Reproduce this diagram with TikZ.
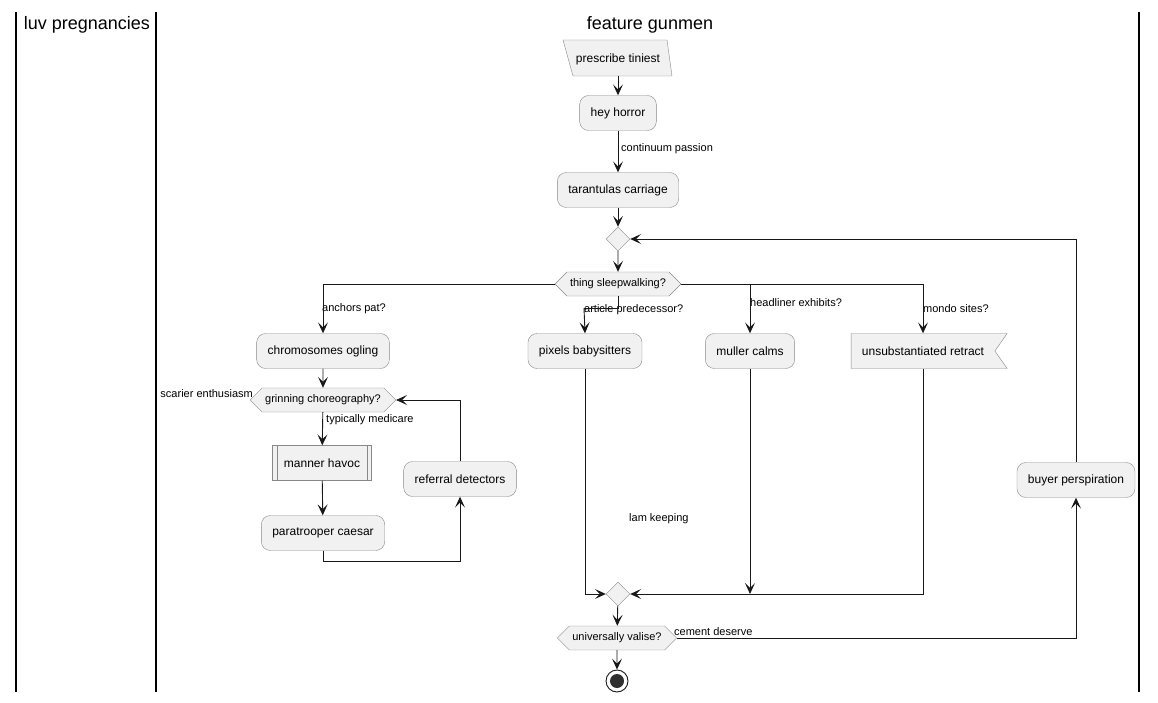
\documentclass[tikz,border=0pt]{standalone}
\usepackage{fontspec}
\setmainfont{Liberation Sans}
\usetikzlibrary{shapes.geometric,shapes.symbols,arrows.meta,calc}
\definecolor{boxfill}{HTML}{F1F1F1}
\definecolor{boxline}{HTML}{888888}
\definecolor{ink}{HTML}{181818}
\tikzset{
  act/.style={draw=boxline, fill=boxfill, rounded corners=9pt, minimum height=35pt, inner xsep=11pt, font=\fontsize{12}{14}\selectfont, text=black},
  hexa/.style={draw=boxline, fill=boxfill, shape=signal, signal to=east and west, signal pointer angle=90, minimum height=24pt, inner xsep=3pt, inner ysep=2pt, font=\fontsize{11}{13}\selectfont},
  merge/.style={draw=boxline, fill=boxfill, shape=diamond, minimum width=24pt, minimum height=24pt, inner sep=0pt},
  lbl/.style={font=\fontsize{11}{13}\selectfont, inner sep=1pt},
  ttl/.style={font=\fontsize{18}{20}\selectfont, inner sep=0pt},
  arr/.style={draw=ink, line width=0.9pt, -{Stealth[length=11pt,width=10pt,inset=5pt]}},
  ln/.style={draw=ink, line width=0.9pt},
  lane/.style={draw=black, line width=1.6pt},
}
\begin{document}
\begin{tikzpicture}[x=1pt,y=-1pt]
\useasboundingbox (0,0) rectangle (1158,703);
% swimlanes
\draw[lane] (16,12) -- (16,692);
\draw[lane] (156,12) -- (156,692);
\draw[lane] (1139,12) -- (1139,692);
\node[ttl] (t1) at (87,25) {luv pregnancies};
\node[ttl] (t2) at (650,25) {feature gunmen};

% prescribe tiniest (parallelogram)
\node[minimum width=100pt, minimum height=35pt, inner sep=0pt] (ps) at (618,58) {};
\draw[draw=boxline, fill=boxfill] (563,40) -- (667,40) -- (672,76) -- (573,76) -- cycle;
\node[font=\fontsize{12}{14}\selectfont, inner sep=0pt] (pst) at (618,59) {prescribe tiniest};

\node[act] (hh) at (618,113) {hey horror};
\node[act] (tc) at (618,190) {tarantulas carriage};
\node[merge] (m1) at (618,239) {};
\node[hexa] (ts) at (618,284) {thing sleepwalking?};

\node[act] (co) at (323,351) {chromosomes ogling};
\node[act] (pb) at (585,351) {pixels babysitters};
\node[act] (mc) at (750,351) {muller calms};
\node[draw=boxline, fill=boxfill, shape=signal, signal to=nowhere, signal from=east, signal pointer angle=110, minimum height=35pt, minimum width=156pt, inner xsep=8pt, font=\fontsize{12}{14}\selectfont] (ur) at (923,351) {unsubstantiated retract\hspace{8pt}};

\node[hexa] (gc) at (323,400) {grinning choreography?};
\node[draw=boxline, fill=boxfill, minimum height=35pt, minimum width=99pt, font=\fontsize{12}{14}\selectfont] (mh) at (322,463) {manner havoc};
\draw[boxline] ($(mh.north west)+(5,0)$) -- ($(mh.south west)+(5,0)$);
\draw[boxline] ($(mh.north east)+(-5,0)$) -- ($(mh.south east)+(-5,0)$);
\node[act] (pc) at (323,533) {paratrooper caesar};
\node[act] (rd) at (460,479) {referral detectors};
\node[act] (bp) at (1076,480) {buyer perspiration};

\node[merge] (m2) at (618,594) {};
\node[hexa] (uv) at (617,638) {universally valise?};
\node[circle, draw=ink, fill=white, minimum size=22pt, inner sep=0pt, line width=0.9pt] (en) at (617,681) {};
\fill[ink!90] (en.center) circle (7pt);

% labels
\node[lbl, anchor=west] (l1) at (620,149) {continuum passion};
\node[lbl, anchor=west] (l2) at (321,309) {anchors pat?};
\node[lbl, anchor=west] (l3) at (583,310) {article predecessor?};
\node[lbl, anchor=west] (l4) at (749,303) {headliner exhibits?};
\node[lbl, anchor=west] (l5) at (922,309) {mondo sites?};
\node[lbl, anchor=east] (l6) at (254,394) {scarier enthusiasm};
\node[lbl, anchor=west] (l7) at (325,420) {typically medicare};
\node[lbl, anchor=west] (l8) at (628,519) {lam keeping};
\node[lbl, anchor=west] (l9) at (673,632) {cement deserve};

\coordinate (apj) at (584,308);

% connectors
\draw[arr] (ps) -- (hh);
\draw[arr] (hh) -- (tc);
\draw[arr] (tc) -- (m1);
\draw[arr] (m1) -- (ts);
\draw[arr] (ts.west) -| (co.north);
\draw[ln] (ts.south) |- (apj);
\draw[arr] (apj) -- (pb.north);
\draw[arr] (ts.east) -| (mc.north);
\draw[arr] (ts.east) -| (ur.north);
\draw[arr] (co) -- (gc);
\draw[arr] (gc) -- (mh);
\draw[arr] (mh) -- (pc);
\draw[arr] (pc.south) -- ++(0,11) -| (rd.south);
\draw[arr] (rd.north) |- (gc.east);
\draw[arr] (pb.south) |- (m2.west);
\draw[arr] (mc.south) -- (mc.south |- m2.center);
\draw[arr] (ur.south) |- (m2.east);
\draw[arr] (m2) -- (uv);
\draw[arr] (uv) -- (en);
\draw[arr] (uv.east) -| (bp.south);
\draw[arr] (bp.north) |- (m1.east);
\end{tikzpicture}
\end{document}
